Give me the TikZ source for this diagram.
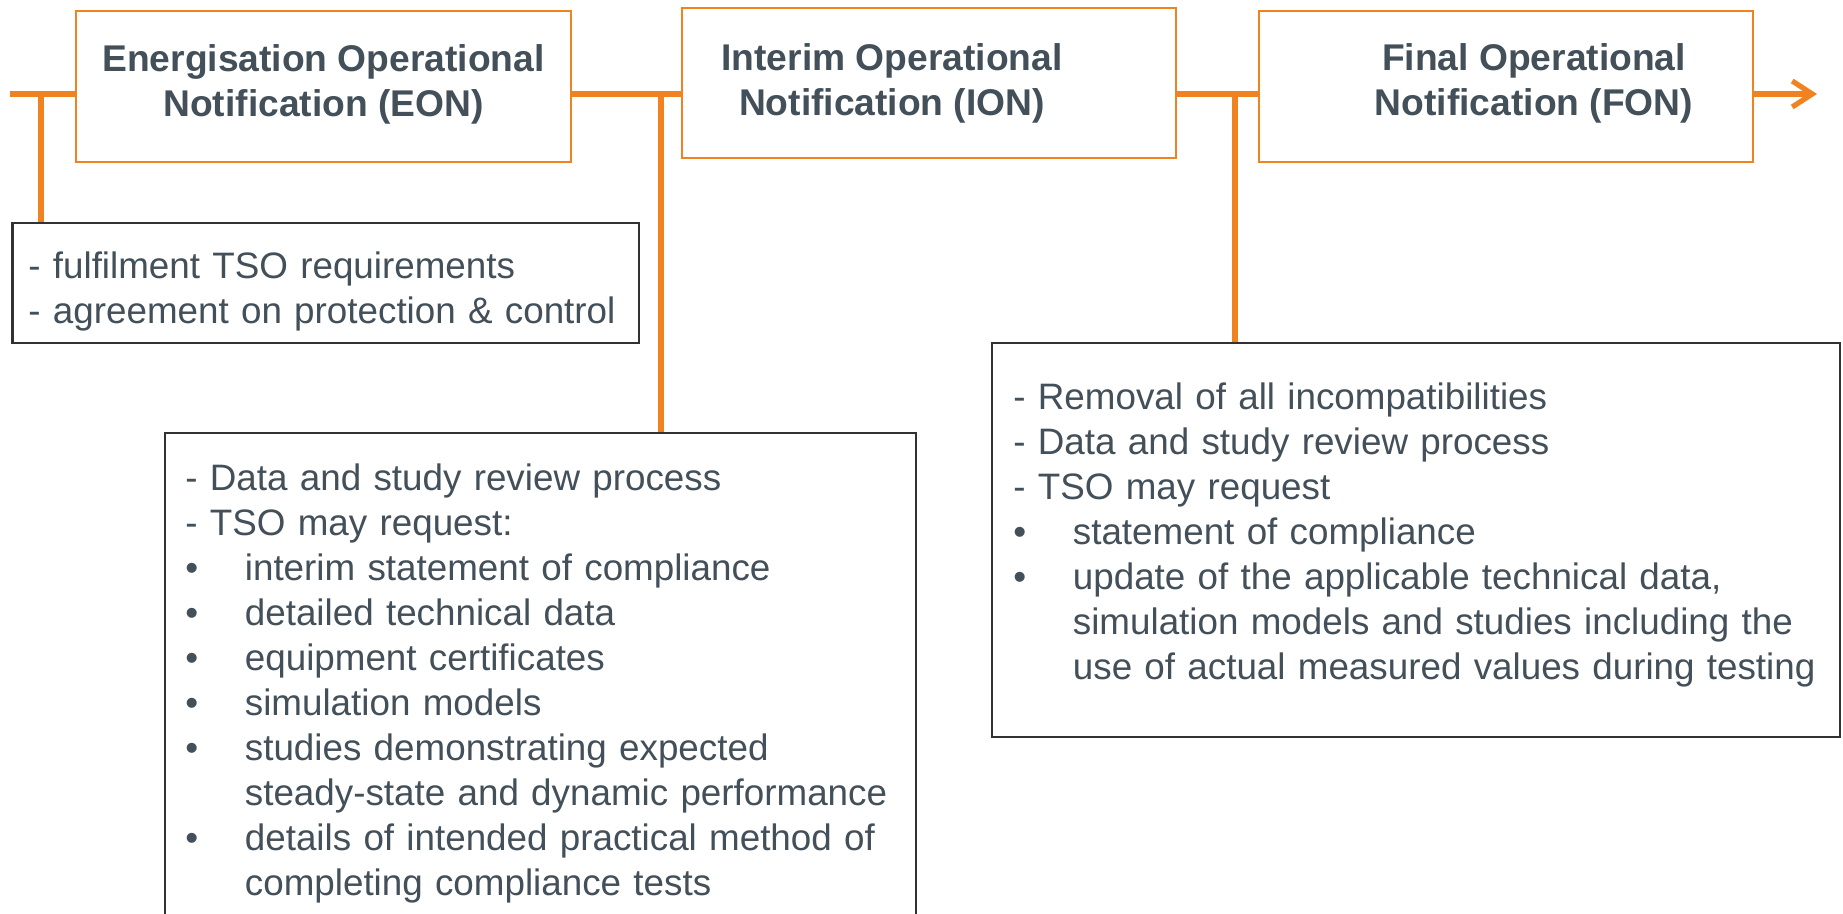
\documentclass[tikz,border=0pt]{standalone}
\usepackage{fontspec}
\setmainfont{Liberation Sans}
\usetikzlibrary{arrows.meta}
\definecolor{org}{RGB}{240,130,32}
\definecolor{txt}{RGB}{67,80,90}
\definecolor{bdr}{RGB}{50,50,50}
\newcommand\myitem{\makebox[29.75pt][l]{•}}
\newcommand\myindent{\hspace*{29.75pt}}
\begin{document}
\begin{tikzpicture}[x=0.5pt,y=-0.5pt,
  obox/.style={draw=org, line width=1pt, fill=white, inner sep=0},
  kbox/.style={draw=bdr, line width=1.1pt, fill=white, inner sep=0},
  tline/.style={draw=org, line width=2.6pt},
  title/.style={font=\fontsize{18.6}{22.5}\selectfont\bfseries, text=txt, align=center, anchor=north, inner sep=0},
  body/.style={font=\fontsize{18.4}{22.5}\selectfont, text=txt, align=left, anchor=north west, inner sep=0, text width=#1}]
\useasboundingbox (0,0) rectangle (1843,914);
\clip (0,0) rectangle (1843,914);
% coordinates on the time line
\coordinate (s) at (10,94);
\coordinate (e) at (1817,94);
\coordinate (j1) at (41,94);
\coordinate (j2) at (661,94);
\coordinate (j3) at (1235,94);
% notification boxes
\node[obox, minimum width=247.5pt, minimum height=75.5pt] (eon) at (323.5,86.5) {};
\node[obox, minimum width=247pt, minimum height=75pt] (ion) at (929,83) {};
\node[obox, minimum width=247pt, minimum height=75.5pt] (fon) at (1506,86.5) {};
% requirement boxes
\node[kbox, minimum width=313.25pt, minimum height=60pt] (b1) at (325.75,283) {};
\node[kbox, minimum width=375.5pt, minimum height=263.5pt] (b2) at (540.5,696.5) {};
\node[kbox, minimum width=424pt, minimum height=197pt] (b3) at (1416,540) {};
% time line
\draw[tline] (s) -- (s -| eon.west);
\draw[tline] (eon.east |- s) -- (ion.west |- s);
\draw[tline] (ion.east |- s) -- (fon.west |- s);
\draw[tline, -{Straight Barb[length=10pt,width=13pt]}] (fon.east |- s) -- (e);
\draw[tline] (j1) -- (j1 |- b1.north);
\draw[tline] (j2) -- (j2 |- b2.north);
\draw[tline] (j3) -- (j3 |- b3.north);
% titles
\node[title] (eont) at (323.5,39.5) {\strut Energisation Operational\\Notification (EON)};
\node[title] (iont) at (892,38.5) {\strut Interim Operational\\Notification (ION)};
\node[title] (font) at (1534,38.5) {\strut Final Operational\\Notification (FON)};
% body texts
\node[body=300pt] (t1) at (28,246.5) {\strut- fulfilment TSO requirements\\- agreement on protection \& control};
\node[body=360pt] (t2) at (185,459) {\strut- Data and study review process\\
- TSO may request:\\
\myitem interim statement of compliance\\
\myitem detailed technical data\\
\myitem equipment certificates\\
\myitem simulation models\\
\myitem studies demonstrating expected\\
\myindent steady-state and dynamic performance\\
\myitem details of intended practical method of\\
\myindent completing compliance tests};
\node[body=410pt] (t3) at (1013,377.5) {\strut- Removal of all incompatibilities\\
- Data and study review process\\
- TSO may request\\
\myitem statement of compliance\\
\myitem update of the applicable technical data,\\
\myindent simulation models and studies including the\\
\myindent use of actual measured values during testing};
\end{tikzpicture}
\end{document}
